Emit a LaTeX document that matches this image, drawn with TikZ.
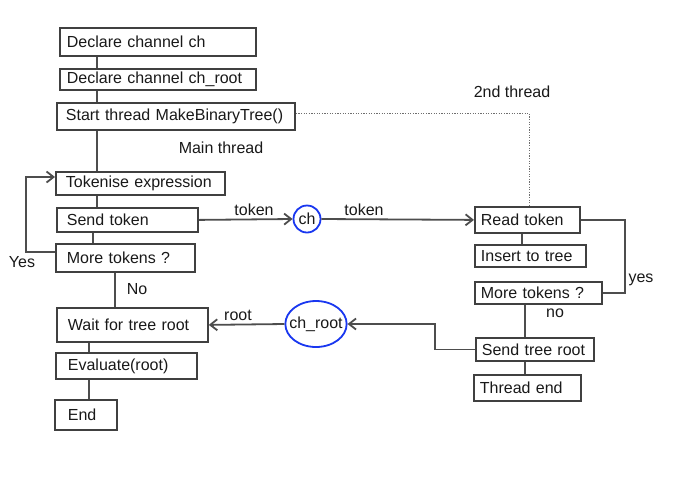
\documentclass[tikz,border=0pt]{standalone}
\usepackage{fontspec}
\setmainfont{Liberation Sans}
\usetikzlibrary{arrows.meta,shapes.geometric}
\definecolor{boxgray}{RGB}{64,64,64}
\definecolor{linegray}{RGB}{77,77,77}
\definecolor{dotgray}{RGB}{110,110,110}
\definecolor{chanblue}{RGB}{25,55,240}
\pgfdeclarelayer{background}
\pgfsetlayers{background,main}

\begin{document}
\begin{tikzpicture} [
	   x=1pt, y=-1pt,
	   every node/.style={font=\fontsize{16}{19}\selectfont, text=black!90},
	   block/.style    = { rectangle, draw=boxgray, line width=1.8pt, anchor=north west,
	                            align=left, inner xsep=10pt, inner ysep=0pt },
	   rblock/.style   = { block, inner xsep=6pt },
	   chan/.style     = { draw=chanblue, line width=1.8pt, inner sep=0pt },
	   line/.style     = { draw=linegray, line width=1.8pt },
	   thread/.style   = { draw=dotgray, line width=1.2pt, dash pattern=on 1.2pt off 1.4pt },
	   >={Straight Barb[length=7pt,width=11pt]},
	 ]
	  \useasboundingbox (0,0) rectangle (700,480);

	  % Main thread
	  \node [block, inner xsep=7pt, text width=182pt, minimum height=28pt] (declch) at (59,27) {Declare channel ch};
	  \node [block, inner xsep=7pt, text width=182pt, minimum height=21pt] (declroot) at (59,68) {Declare channel ch\_root};
	  \node [block, inner xsep=9pt, text width=220pt, minimum height=27pt] (start) at (56,102) {Start thread MakeBinaryTree()};
	  \node [block, text width=149pt, minimum height=23pt] (tokenise) at (55,171) {Tokenise expression};
	  \node [block, text width=121pt, minimum height=24pt] (send) at (56,207) {Send token};
	  \node [block, inner xsep=11pt, text width=117pt, minimum height=28pt] (more) at (55,243) {More tokens ?};
	  \node [block, inner xsep=11pt, text width=129pt, minimum height=34pt] (wait) at (56,307) {Wait for tree root};
	  \node [block, inner xsep=12pt, text width=117pt, minimum height=26pt] (eval) at (55,352) {Evaluate(root)};
	  \node [block, inner xsep=13pt, text width=36pt, minimum height=30pt] (end) at (54,399) {End};

	  % 2nd thread
	  \node [rblock, text width=93pt, minimum height=26pt] (read) at (474,206) {Read token};
	  \node [rblock, text width=99pt, minimum height=22pt] (insert) at (474,244) {Insert to tree};
	  \node [rblock, text width=115pt, minimum height=22pt] (moretwo) at (474,281) {More tokens ?};
	  \node [rblock, text width=106pt, minimum height=23pt] (sendroot) at (475,337) {Send tree root};
	  \node [rblock, text width=95pt, minimum height=26pt] (threadend) at (473,374) {Thread end};

	  % Channels
	  \node [chan, circle, minimum size=27pt] (ch) at (307,219) {ch};
	  \node [chan, ellipse, inner xsep=-5pt, minimum width=61pt, minimum height=46pt] (chroot) at (316,324) {ch\_root};

	  % Labels
	  \node (mainlbl) at (221,148) {Main thread};
	  \node (secondlbl) at (512,92) {2nd thread};
	  \node (tokenlbl) at (254,210) {token};
	  \node (tokenlbltwo) at (364,210) {token};
	  \node (rootlbl) at (238,315) {root};
	  \node (yeslbl) at (22,262) {Yes};
	  \node (nolbl) at (137,289) {No};
	  \node (yeslbltwo) at (641,280) {yes};
	  \node (nolbltwo) at (555,313) {no};

	  % Spines and corners
	  \coordinate (spinemain) at (97,0);
	  \coordinate (spinemore) at (93,0);
	  \coordinate (spineno) at (115,0);
	  \coordinate (spineend) at (89,0);
	  \coordinate (spineread) at (522,0);
	  \coordinate (spinesend) at (525,0);
	  \coordinate (loopcorner) at (26,177);
	  \coordinate (yesx) at (625,0);
	  \coordinate (rootx) at (435,0);

	  % connect all nodes defined above
	  \begin{scope} [every path/.style=line]
		\path (declch.south -| spinemain) -- (declroot.north -| spinemain);
		\path (declroot.south -| spinemain) -- (start.north -| spinemain);
		\path (start.south -| spinemain) -- (tokenise.north -| spinemain);
		\path (tokenise.south -| spinemain) -- (send.north -| spinemain);
		\path (send.south -| spinemore) -- (more.north -| spinemore);
		\path (more.south -| spineno) -- (wait.north -| spineno);
		\path (wait.south -| spineend) -- (eval.north -| spineend);
		\path (eval.south -| spineend) -- (end.north -| spineend);
	%
		\path[->] ([yshift=6pt]more.west) -| (loopcorner) -- (loopcorner -| tokenise.west);
		\path[->] (send.east) -- (ch.west);
		\path[->] (ch.east) -- (read.west);
	%
		\path (read.south -| spineread) -- (insert.north -| spineread);
		\path (read.east) -| (yesx |- moretwo.east) -- (moretwo.east);
		\path (moretwo.south -| spinesend) -- (sendroot.north -| spinesend);
		\path (sendroot.south -| spinesend) -- (threadend.north -| spinesend);
	%
		\path[->] (sendroot.west) -| (rootx |- chroot.east) -- (chroot.east);
		\path[->] (chroot.west) -- (wait.east);
	  \end{scope}

	  \path[thread] ([yshift=3pt]start.east) -| ([xshift=2pt]read.north);

	\begin{pgfonlayer}{background}
	  	\path[fill=white] (0,0) rectangle (700,480);
	\end{pgfonlayer}
	\end{tikzpicture}
\end{document}
